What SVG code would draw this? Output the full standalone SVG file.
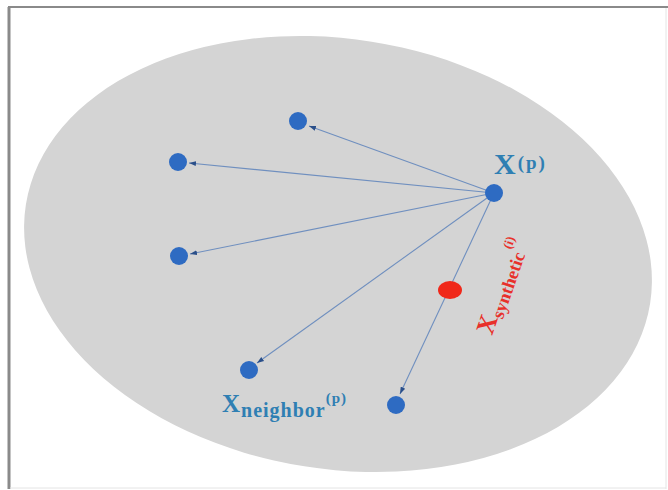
<svg xmlns="http://www.w3.org/2000/svg" width="668" height="490" viewBox="0 0 668 490">
<style>
.dot{fill:#2e6bc2}
.edge{stroke:#6f8fbf;stroke-width:1.1;fill:none;marker-end:url(#ah)}
.lbl{font-family:"Liberation Serif","DejaVu Serif",serif;fill:#2f7fb3;font-weight:bold}
.red{font-family:"Liberation Serif","DejaVu Serif",serif;fill:#e8302a;font-weight:bold}
</style>
<defs>
<marker id="ah" viewBox="0 0 10 10" refX="10" refY="5" markerWidth="7" markerHeight="7" orient="auto" markerUnits="userSpaceOnUse">
<path d="M0,1.5 L10,5 L0,8.5 z" fill="#2a4f8a"/>
</marker>
</defs>
<rect width="668" height="490" fill="#ffffff"/>
<g id="frame">
<line x1="9" y1="7" x2="9" y2="489" stroke="#8a8a8a" stroke-width="3"/>
<line x1="8" y1="7" x2="668" y2="7" stroke="#8a8a8a" stroke-width="2"/>
<line x1="666" y1="8" x2="666" y2="489" stroke="#e4e4e4" stroke-width="1"/>
<line x1="10" y1="488" x2="666" y2="488" stroke="#e4e4e4" stroke-width="1"/>
</g>
<g id="region">
<ellipse cx="338" cy="254" rx="316" ry="215" transform="rotate(9 338 254)" fill="#d4d4d4"/>
</g>
<g id="connectors">
<line class="edge" x1="494" y1="193" x2="309" y2="126"/>
<line class="edge" x1="494" y1="193" x2="189" y2="163"/>
<line class="edge" x1="494" y1="193" x2="190" y2="254"/>
<line class="edge" x1="494" y1="193" x2="257" y2="363"/>
<line class="edge" x1="494" y1="193" x2="400" y2="394"/>
</g>
<g id="node-xp">
<circle class="dot" cx="494" cy="193" r="9"/>
<text class="lbl" x="494" y="174"><tspan font-size="30" letter-spacing="2">X</tspan><tspan font-size="19" letter-spacing="2" dy="-5">(p)</tspan></text>
</g>
<g id="node-n1"><circle class="dot" cx="298" cy="121" r="9"/></g>
<g id="node-n2"><circle class="dot" cx="178" cy="162" r="9"/></g>
<g id="node-n3"><circle class="dot" cx="179" cy="256" r="9"/></g>
<g id="node-n4">
<circle class="dot" cx="249" cy="370" r="9"/>
<text class="lbl" x="222" y="412"><tspan font-size="25" letter-spacing="1">X</tspan><tspan font-size="20" letter-spacing="1" dy="5">neighbor</tspan><tspan font-size="15" letter-spacing="1" dy="-14">(p)</tspan></text>
</g>
<g id="node-n5"><circle class="dot" cx="396" cy="405" r="9"/></g>
<g id="node-synthetic">
<ellipse cx="450" cy="290" rx="12" ry="9" fill="#f0281a"/>
<text class="red" transform="translate(492,336) rotate(-71)"><tspan font-size="26">X</tspan><tspan font-size="18" dy="5">synthetic</tspan><tspan font-size="13" dy="-15">(i)</tspan></text>
</g>
</svg>
